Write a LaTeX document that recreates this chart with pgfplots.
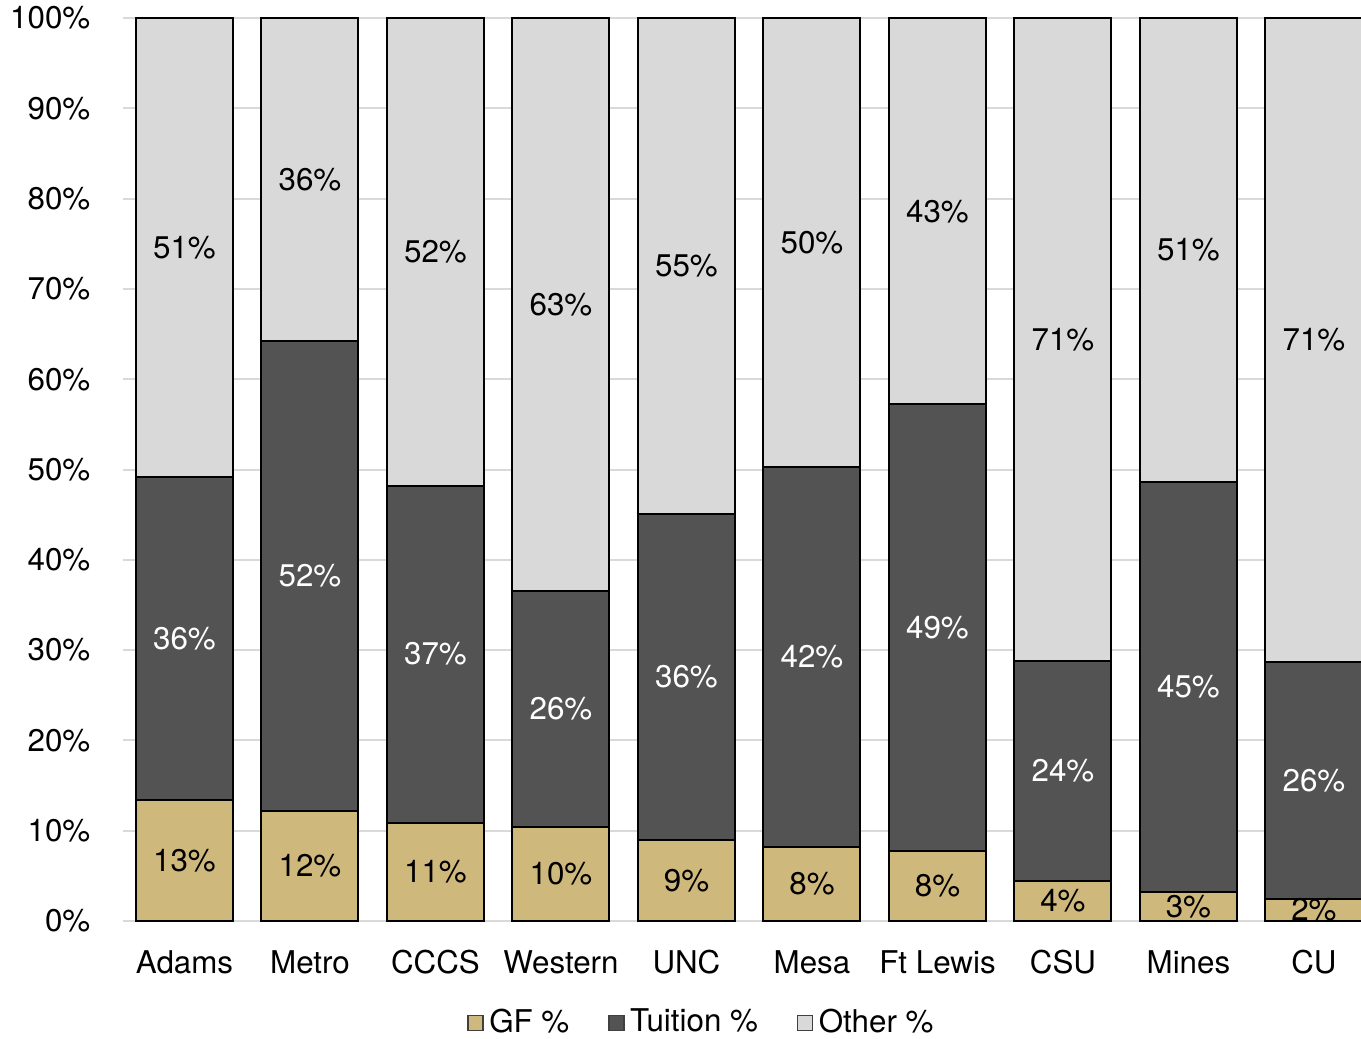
\documentclass[border=0pt]{standalone}
\usepackage{fontspec}
\setmainfont{TeX Gyre Heros}
\usepackage{pgfplots}
\usepackage{pgfplotstable}
\pgfplotsset{compat=1.18}

\definecolor{gfcol}{RGB}{207,184,124}
\definecolor{tuicol}{RGB}{83,83,83}
\definecolor{othcol}{RGB}{217,217,217}
\definecolor{gridcol}{RGB}{217,217,217}

% share of funding, percent (GF, tuition, other)
\pgfplotstableread{
x gf tui oth
0 13.4 35.8 50.8
1 12.2 52.0 35.8
2 10.9 37.3 51.8
3 10.4 26.2 63.4
4 9.0 36.1 54.9
5 8.2 42.1 49.7
6 7.8 49.4 42.8
7 4.4 24.4 71.2
8 3.2 45.4 51.4
9 2.4 26.3 71.3
}\shares

\pgfplotsset{
  seglabel/.style={
    point meta=explicit,
    nodes near coords={\pgfmathprintnumber[fixed,precision=0]{\pgfplotspointmeta}\%},
    every node near coord/.append style={anchor=center},
  },
}

\begin{document}
\begin{tikzpicture}[font=\fontsize{9.4}{11.2}\selectfont]
\useasboundingbox (-36.9pt,-35.1pt) rectangle (371.4pt,276.3pt);
\begin{axis}[
  at={(0,0)}, anchor=south west,
  scale only axis, width=371.4pt, height=270.9pt,
  ybar stacked, bar width=0.773,
  xmin=-0.49, xmax=9.375, ymin=0, ymax=100,
  xtick={0,...,9},
  xticklabels={Adams,Metro,CCCS,Western,UNC,Mesa,Ft Lewis,CSU,Mines,CU},
  ytick={0,10,...,100},
  yticklabel={\pgfmathprintnumber{\tick}\%},
  /pgf/number format/assume math mode=true,
  xticklabel style={anchor=base, yshift=-15.6pt},
  yticklabel style={inner sep=0pt, xshift=-9.6pt},
  axis line style={draw=none},
  major tick length=0pt,
  ymajorgrids, grid style={gridcol, line width=0.6pt},
  legend columns=-1,
  legend style={at={(0.4685,0)}, anchor=center, yshift=-30.6pt, draw=none,
    fill=none, inner sep=0pt,
    /tikz/every even column/.append style={column sep=10pt},
    nodes={inner sep=1.6pt}},
  legend image code/.code={\draw[#1, draw=black!75, line width=0.45pt]
    (0pt,-2.3pt) rectangle (4.6pt,2.3pt);},
]
\addplot[fill=gfcol, draw=black, line width=0.6pt, seglabel,
  nodes near coords style={black}]
  table[x=x, y=gf, meta=gf] {\shares};
\addplot[fill=tuicol, draw=black, line width=0.6pt, seglabel,
  nodes near coords style={white}]
  table[x=x, y=tui, meta=tui] {\shares};
\addplot[fill=othcol, draw=black, line width=0.6pt, seglabel,
  nodes near coords style={black}]
  table[x=x, y=oth, meta=oth] {\shares};
\legend{GF \%, Tuition \%, Other \%}
\end{axis}
\end{tikzpicture}
\end{document}
